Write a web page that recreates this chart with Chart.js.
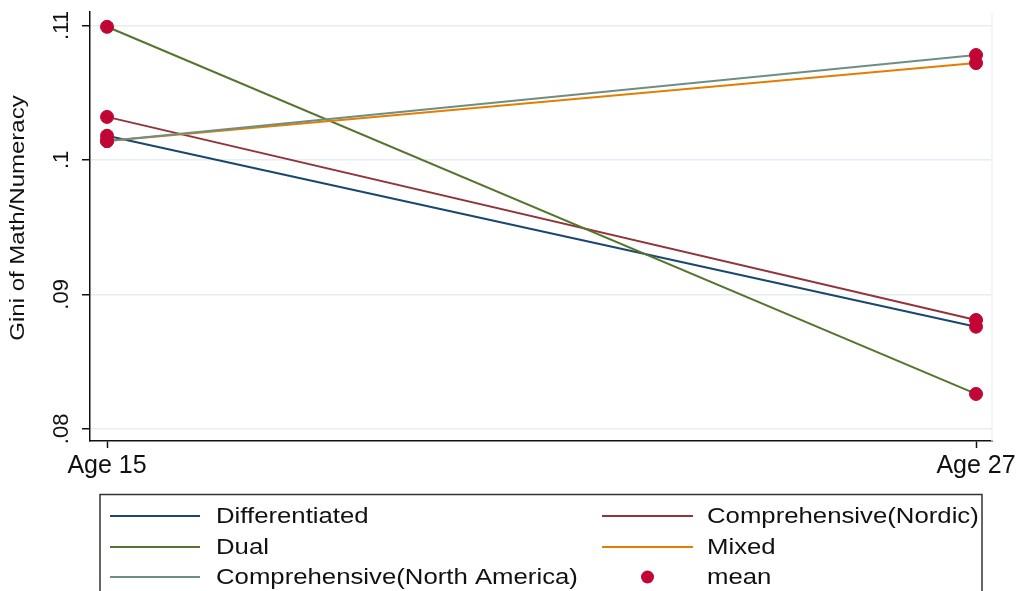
<!DOCTYPE html>
<html>
<head>
<meta charset="utf-8">
<script src="https://cdn.jsdelivr.net/npm/chart.js@4/dist/chart.umd.min.js"></script>
<style>
  html, body { margin: 0; padding: 0; background: #ffffff; }
  #wrap { width: 1016px; height: 591px; position: relative; }
</style>
</head>
<body>
<div id="wrap"><canvas id="c" width="1016" height="591"></canvas></div>
<script>
// ---- data ----
const categories = ['Age 15', 'Age 27'];
const yTicks = [0.08, 0.09, 0.10, 0.11];
const yTickLabels = ['.08', '.09', '.1', '.11'];
const yTitle = 'Gini of Math/Numeracy';
const seriesNames = ['Differentiated', 'Comprehensive(Nordic)', 'Dual', 'Mixed', 'Comprehensive(North America)'];
const differentiated = [0.1018, 0.0876];
const nordic = [0.1032, 0.0881];
const dual = [0.1099, 0.0826];
const mixed = [0.1014, 0.1072];
const northAmerica = [0.1014, 0.1078];
const meanLabel = 'mean';

// ---- styles ----
const colors = ['#1a476f', '#90353b', '#55752f', '#e37e00', '#6e8e84'];
const meanColor = '#c10534';
const FONT = "'Liberation Sans', Arial, sans-serif";
Chart.defaults.font.family = FONT;
Chart.defaults.color = '#111';

const allSeries = [differentiated, nordic, dual, mixed, northAmerica];
const toPts = arr => arr.map((v, i) => ({ x: i, y: v }));

const datasets = allSeries.map((s, k) => ({
  label: seriesNames[k],
  data: toPts(s),
  borderColor: colors[k],
  backgroundColor: colors[k],
  borderWidth: 2,
  pointRadius: 0,
  pointHoverRadius: 0,
  fill: false,
  tension: 0,
  order: 5 - k
}));
datasets.push({
  type: 'scatter',
  label: meanLabel,
  data: allSeries.flatMap(s => toPts(s)),
  backgroundColor: meanColor,
  borderColor: meanColor,
  pointRadius: 6.5,
  pointHoverRadius: 6.5,
  showLine: false,
  order: -1
});

const legendPlugin = {
  id: 'stataLegend',
  afterDraw(chart) {
    const ctx = chart.ctx;
    const ca = chart.chartArea;
    ctx.save();
    // faint plot region right border
    ctx.strokeStyle = '#eef3f6';
    ctx.lineWidth = 1.5;
    ctx.beginPath();
    ctx.moveTo(ca.right, ca.top);
    ctx.lineTo(ca.right, ca.bottom);
    ctx.stroke();
    // y axis title (stretched like the reference)
    ctx.save();
    ctx.fillStyle = '#111';
    ctx.font = '20px ' + FONT;
    ctx.textAlign = 'center';
    ctx.textBaseline = 'middle';
    ctx.translate(18, 218);
    ctx.rotate(-Math.PI / 2);
    ctx.scale(1.2, 1);
    ctx.fillText(yTitle, 0, 0);
    ctx.restore();
    // legend box
    ctx.strokeStyle = '#333';
    ctx.lineWidth = 1.5;
    ctx.strokeRect(100, 494.5, 882, 120);
    const items = [
      { name: seriesNames[0], color: colors[0] },
      { name: seriesNames[1], color: colors[1] },
      { name: seriesNames[2], color: colors[2] },
      { name: seriesNames[3], color: colors[3] },
      { name: seriesNames[4], color: colors[4] },
      { name: meanLabel, color: meanColor, dot: true }
    ];
    const rowsY = [516, 547, 577];
    const colX = [{ l0: 110, l1: 200, t: 216 }, { l0: 602, l1: 693, t: 707 }];
    ctx.font = '22px ' + FONT;
    ctx.textBaseline = 'middle';
    ctx.textAlign = 'left';
    items.forEach((it, i) => {
      const r = Math.floor(i / 2), c = i % 2;
      const y = rowsY[r], cx = colX[c];
      if (it.dot) {
        ctx.fillStyle = it.color;
        ctx.beginPath();
        ctx.arc((cx.l0 + cx.l1) / 2, y, 6.5, 0, Math.PI * 2);
        ctx.fill();
      } else {
        ctx.strokeStyle = it.color;
        ctx.lineWidth = 2;
        ctx.beginPath();
        ctx.moveTo(cx.l0, y);
        ctx.lineTo(cx.l1, y);
        ctx.stroke();
      }
      ctx.fillStyle = '#111';
      ctx.save();
      ctx.translate(cx.t, y + 1);
      ctx.scale(1.17, 1);
      ctx.fillText(it.name, 0, 0);
      ctx.restore();
    });
    ctx.restore();
  }
};

new Chart(document.getElementById('c'), {
  type: 'line',
  data: { datasets },
  options: {
    responsive: false,
    animation: false,
    events: [],
    layout: { padding: { left: 0, top: 12, right: 24, bottom: 100 } },
    plugins: { legend: { display: false }, tooltip: { enabled: false } },
    scales: {
      x: {
        type: 'linear',
        min: -0.0196,
        max: 1.0184,
        afterBuildTicks: s => { s.ticks = categories.map((c, i) => ({ value: i })); },
        afterFit: s => { s.height = 50; s.paddingLeft = 0; s.paddingRight = 0; },
        ticks: {
          callback: v => categories[v],
          font: { size: 25 },
          color: '#111',
          padding: 3,
          maxRotation: 0,
          minRotation: 0,
          autoSkip: false
        },
        grid: {
          display: true,
          drawOnChartArea: false,
          drawTicks: true,
          tickLength: 7,
          tickColor: '#111',
          tickWidth: 1.5
        },
        border: { display: true, color: '#111', width: 1.5 }
      },
      y: {
        type: 'linear',
        min: 0.0791,
        max: 0.1110,
        afterBuildTicks: s => { s.ticks = yTicks.map(v => ({ value: v })); },
        afterFit: s => { s.width = 90; s.paddingTop = 0; s.paddingBottom = 0; },
        ticks: {
          callback: (v, i) => yTickLabels[i],
          font: { size: 22 },
          color: '#111',
          padding: 5,
          minRotation: 90,
          maxRotation: 90,
          crossAlign: 'center',
          autoSkip: false
        },
        title: { display: false },
        grid: {
          color: '#e6eef2',
          lineWidth: 1.5,
          drawTicks: true,
          tickLength: 8,
          tickColor: '#111',
          tickWidth: 1.5
        },
        border: { display: true, color: '#111', width: 1.5 }
      }
    }
  },
  plugins: [legendPlugin]
});
</script>
</body>
</html>
